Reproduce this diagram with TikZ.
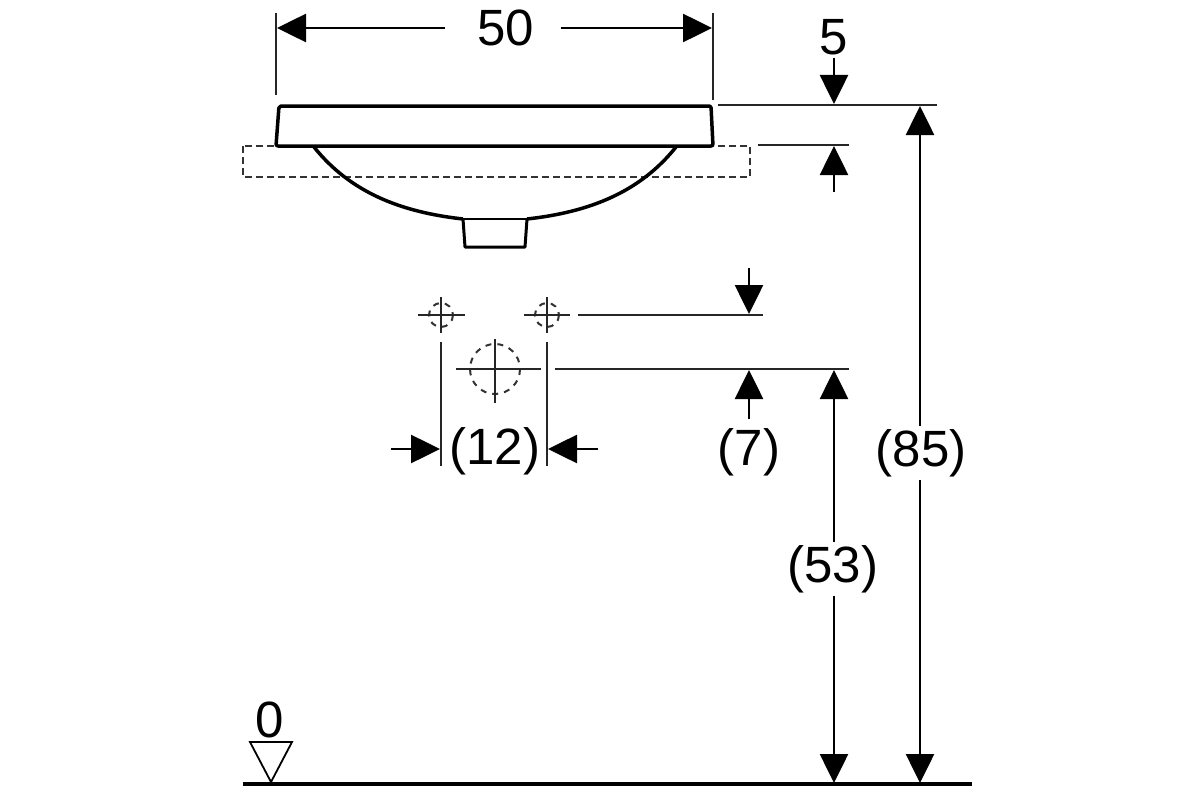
\documentclass[tikz,border=0pt]{standalone}
\usepackage{fontspec}
\setmainfont{Liberation Sans}
\usetikzlibrary{positioning,arrows.meta,calc}
\tikzset{
	>={Triangle[length=29pt,width=28pt]}
}

\begin{document}
\begin{tikzpicture}[
x = 1pt,
y = -1pt,
every node/.style = {
	font = \fontsize{51}{51}\selectfont,
	inner sep = 0pt
},
outline/.style = {
	line width = 3.5pt,
	line join = round
},
thin line/.style = {
	line width = 2.6pt,
	black!85
},
dimline/.style = {
	line width = 2.6pt,
	black
},
hidden/.style = {
	line width = 2pt,
	dash pattern = on 7pt off 4pt,
	black!80
}
]
\useasboundingbox [fill=white] (0,0) rectangle (1200,800);

% washbasin
\draw [hidden] (243,146) rectangle (750,177);
\draw [outline, fill=white, rounded corners = 2pt] (279,106) -- (711,106) -- (713,146) -- (276,146) -- cycle;
\draw [outline] (314,147) .. controls (350,192) and (400,212) .. (463,219);
\draw [outline] (676,147) .. controls (640,192) and (590,212) .. (527,219);
\draw [line width = 3pt, line join = round] (463,219) -- (465,247) -- (525,247) -- (527,219);
\draw [line width = 1.5pt] (463,219) -- (527,219);

% holes
\foreach \name/\cx/\cy/\rad/\hl/\hr/\vt/\vb in {
	holeL/441/315/12/23/24/18/18,
	holeR/547/315/12/23/23/18/18,
	holeM/495/369/25/39/46/30/34} {
	\coordinate (\name) at (\cx,\cy);
	\draw [hidden, dash pattern = on 6pt off 6pt] (\name) circle (\rad);
	\draw [thin line] ($(\name)+(-\hl,0)$) -- ($(\name)+(\hr,0)$);
	\draw [thin line] ($(\name)+(0,-\vt)$) -- ($(\name)+(0,\vb)$);
}

% extension lines
\draw [thin line] (276,13) -- (276,95);
\draw [thin line] (713,13) -- (713,100);
\draw [thin line] (718,105) -- (937,105);
\draw [thin line] (758,145) -- (849,145);
\draw [thin line] (578,315) -- (763,315);
\draw [thin line] (555,369) -- (849,369);
\draw [thin line] (441,342) -- (441,466);
\draw [thin line] (547,342) -- (547,466);

% labels
\node (w_t) at (506,28) {50};
\node (h_t) at (834,37) {5};
\node (c_t) at (495,451) {(12)};
\node (d_t) at (749,452) {(7)};
\node (e_t) at (833,569) {(53)};
\node (f_t) at (921,453) {(85)};
\node (zero_t) at (270,720) {0};

% dimension arrows
\coordinate (w_l) at (277,28);
\coordinate (w_r) at (712,28);
\draw [dimline, ->] (w_t.west) ++(-32,0) -- (w_l);
\draw [dimline, ->] (w_t.east) ++(26,0) -- (w_r);
\coordinate (h_a) at (834,104);
\draw [dimline, ->] (h_t.south) ++(0,3) -- (h_a);
\coordinate (h_b1) at (834,192);
\coordinate (h_b2) at (834,146);
\draw [dimline, ->] (h_b1) -- (h_b2);
\coordinate (d_a1) at (749,268);
\coordinate (d_a2) at (749,314);
\draw [dimline, ->] (d_a1) -- (d_a2);
\coordinate (d_b) at (749,370);
\draw [dimline, ->] (d_t.north) ++(0,-9) -- (d_b);
\coordinate (c_a1) at (391,449);
\coordinate (c_a2) at (440,449);
\coordinate (c_b1) at (598,449);
\coordinate (c_b2) at (548,449);
\draw [dimline, ->] (c_a1) -- (c_a2);
\draw [dimline, ->] (c_b1) -- (c_b2);
\coordinate (e_top) at (834,370);
\coordinate (e_bot) at (834,783);
\draw [dimline, ->] (e_t.north -| e_top) ++(0,-3) -- (e_top);
\draw [dimline, ->] (e_t.south -| e_bot) ++(0,3) -- (e_bot);
\coordinate (f_top) at (920,106);
\coordinate (f_bot) at (920,783);
\draw [dimline, ->] (f_t.north -| f_top) ++(0,-3) -- (f_top);
\draw [dimline, ->] (f_t.south -| f_bot) ++(0,3) -- (f_bot);

% floor level
\coordinate (floor_l) at (243,784);
\coordinate (floor_r) at (972,784);
\draw [line width = 4pt] (floor_l) -- (floor_r);
\draw [line width = 1.8pt, line join = miter] (250,742) -- (292,742) -- (271,782) -- cycle;

\end{tikzpicture}
\end{document}
